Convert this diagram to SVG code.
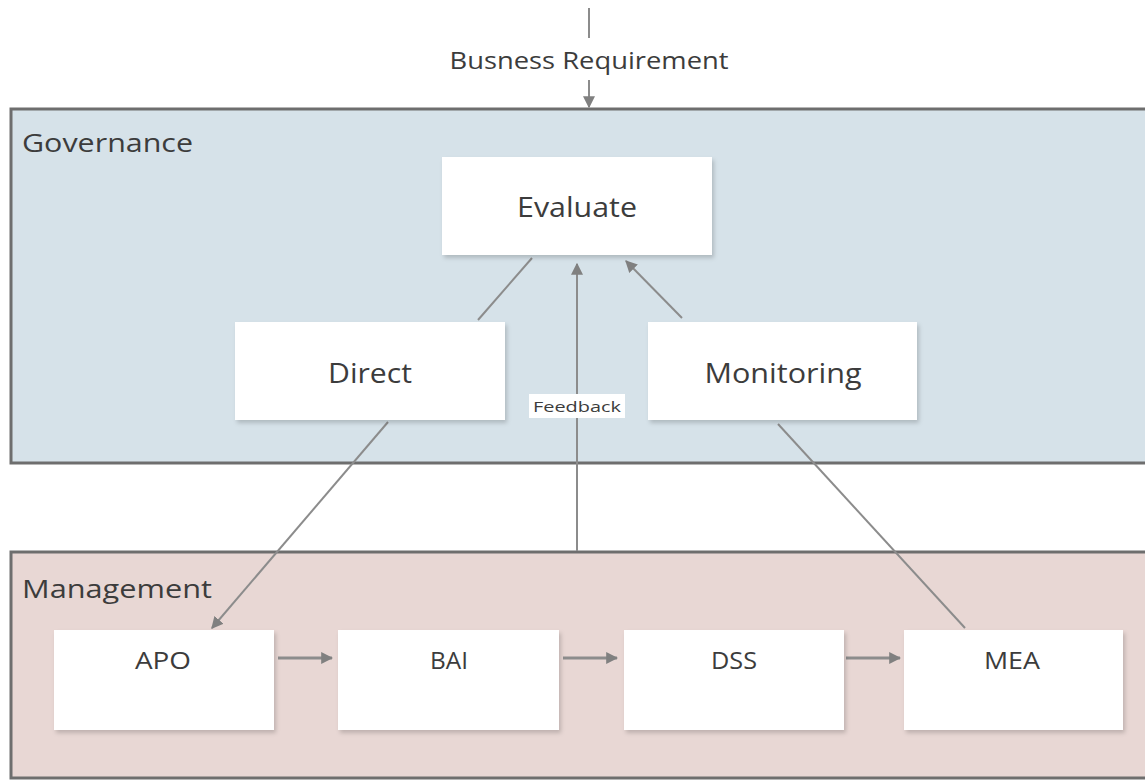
<svg xmlns="http://www.w3.org/2000/svg" width="1145" height="783" viewBox="0 0 1145 783">
<defs>
<marker id="ah" viewBox="0 0 10 10" refX="9" refY="5" markerWidth="12" markerHeight="12" markerUnits="userSpaceOnUse" orient="auto">
<path d="M0,0 L10,5 L0,10 z" fill="#808080"/>
</marker>
<filter id="sh" x="-5%" y="-5%" width="115%" height="120%">
<feDropShadow dx="2" dy="3" stdDeviation="2" flood-color="#000" flood-opacity="0.18"/>
</filter>
</defs>
<style>
text{font-family:"Open Sans","Noto Sans","Liberation Sans",sans-serif;fill:#3c3c3c;}
.box{fill:#ffffff;filter:url(#sh);}
.lbl{font-size:28px;text-anchor:middle;dominant-baseline:central;}
.small{font-size:24px;text-anchor:middle;dominant-baseline:central;}
.grp{font-size:25px;dominant-baseline:central;}
.conn{stroke:#8c8c8c;stroke-width:2;fill:none;}
.conn2{stroke:#8c8c8c;stroke-width:3;fill:none;}
</style>
<rect width="1145" height="783" fill="#ffffff"/>
<g id="governance">
<rect x="11" y="109" width="1140" height="354" fill="#d6e2e9" stroke="#6e6e6e" stroke-width="3"/>
<text class="grp" x="22" y="142" textLength="171" lengthAdjust="spacingAndGlyphs">Governance</text>
</g>
<g id="management">
<rect x="11" y="552" width="1140" height="226" fill="#e8d7d4" stroke="#6e6e6e" stroke-width="3"/>
<text class="grp" x="22" y="588" textLength="190" lengthAdjust="spacingAndGlyphs">Management</text>
</g>
<g id="connectors">
<line class="conn" x1="589" y1="8" x2="589" y2="38"/>
<line class="conn" x1="589" y1="80" x2="589" y2="107" marker-end="url(#ah)"/>
<line class="conn" x1="478" y1="320" x2="532" y2="258"/>
<line class="conn" x1="682" y1="318" x2="626" y2="261" marker-end="url(#ah)"/>
<line class="conn" x1="577" y1="551" x2="577" y2="264" marker-end="url(#ah)"/>
<line class="conn" x1="388" y1="422" x2="212" y2="628" marker-end="url(#ah)"/>
<line class="conn" x1="778" y1="424" x2="965" y2="628"/>
<line class="conn2" x1="278" y1="658" x2="332" y2="658" marker-end="url(#ah)"/>
<line class="conn2" x1="563" y1="658" x2="617" y2="658" marker-end="url(#ah)"/>
<line class="conn2" x1="846" y1="658" x2="900" y2="658" marker-end="url(#ah)"/>
<rect x="529" y="394" width="96" height="24" fill="#ffffff"/>
<text x="577" y="406" font-size="15" text-anchor="middle" dominant-baseline="central" textLength="88" lengthAdjust="spacingAndGlyphs">Feedback</text>
<text x="589" y="60" font-size="23" text-anchor="middle" dominant-baseline="central" textLength="279" lengthAdjust="spacingAndGlyphs">Busness Requirement</text>
</g>
<g id="evaluate">
<rect class="box" x="442" y="157" width="270" height="98"/>
<text class="lbl" x="577" y="206" textLength="120" lengthAdjust="spacingAndGlyphs">Evaluate</text>
</g>
<g id="direct">
<rect class="box" x="235" y="322" width="270" height="98"/>
<text class="lbl" x="370" y="372" textLength="84" lengthAdjust="spacingAndGlyphs">Direct</text>
</g>
<g id="monitoring">
<rect class="box" x="648" y="322" width="269" height="98"/>
<text class="lbl" x="783" y="372" textLength="157" lengthAdjust="spacingAndGlyphs">Monitoring</text>
</g>
<g id="apo">
<rect class="box" x="54" y="630" width="220" height="100"/>
<text class="small" x="163" y="659" textLength="56" lengthAdjust="spacingAndGlyphs">APO</text>
</g>
<g id="bai">
<rect class="box" x="338" y="630" width="221" height="100"/>
<text class="small" x="449" y="659" textLength="38" lengthAdjust="spacingAndGlyphs">BAI</text>
</g>
<g id="dss">
<rect class="box" x="624" y="630" width="220" height="100"/>
<text class="small" x="734" y="659" textLength="46" lengthAdjust="spacingAndGlyphs">DSS</text>
</g>
<g id="mea">
<rect class="box" x="904" y="630" width="219" height="100"/>
<text class="small" x="1012" y="659" textLength="56" lengthAdjust="spacingAndGlyphs">MEA</text>
</g>
</svg>
